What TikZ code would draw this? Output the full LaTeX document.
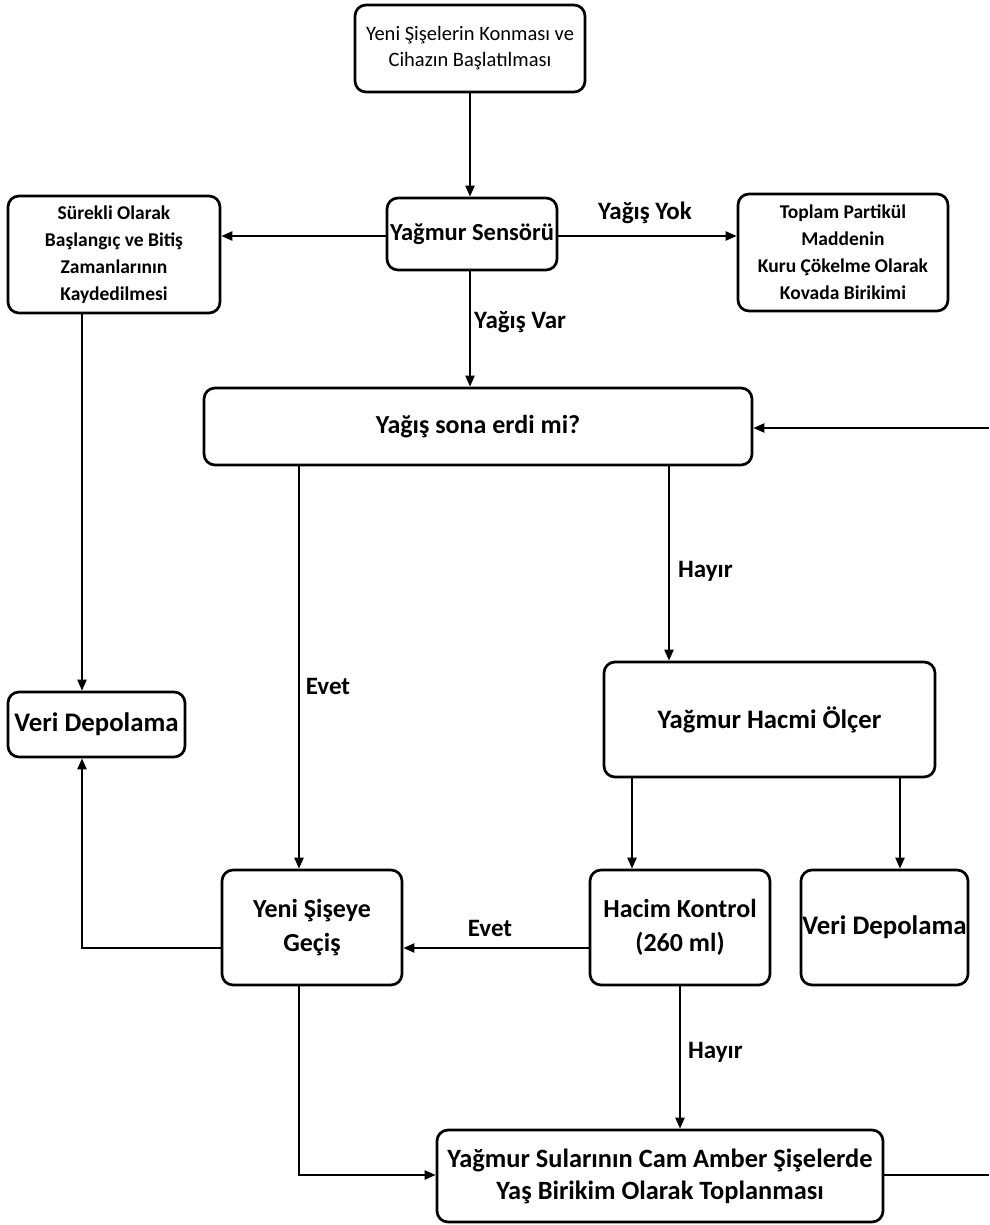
\documentclass[tikz,border=0pt]{standalone}
\usepackage{fontspec}
\setmainfont{Carlito}
\usetikzlibrary{arrows.meta}
\begin{document}
\begin{tikzpicture}[x=1pt,y=-1pt,
  box/.style={draw, line width=2.7pt, rounded corners=11pt, align=center, inner sep=0pt},
  arr/.style={line width=2.3pt, -{Triangle[length=11pt,width=9pt]}},
  ln/.style={line width=2.3pt},
  lbl/.style={font=\fontsize{25}{29}\selectfont\bfseries, inner sep=0pt}]
\useasboundingbox (0,0) rectangle (989,1225);
\node[box, minimum width=230pt, minimum height=87pt, font=\fontsize{20.5}{26}\selectfont] (start) at (470,48.5) {Yeni Şişelerin Konması ve\\Cihazın Başlatılması};
\node[box, minimum width=170pt, minimum height=72pt, font=\fontsize{24.5}{30}\selectfont\bfseries] (sensor) at (472,234) {Yağmur Sensörü};
\node[box, minimum width=212pt, minimum height=117pt, font=\fontsize{19.5}{27}\selectfont\bfseries] (rec) at (114,254.5) {Sürekli Olarak\\Başlangıç ve Bitiş\\Zamanlarının\\Kaydedilmesi};
\node[box, minimum width=210pt, minimum height=117pt, font=\fontsize{19.5}{27}\selectfont\bfseries] (dry) at (843,252.5) {Toplam Partikül\\Maddenin\\Kuru Çökelme Olarak\\Kovada Birikimi};
\node[box, minimum width=548pt, minimum height=77pt, font=\fontsize{26}{30}\selectfont\bfseries] (ended) at (478,426.5) {Yağış sona erdi mi?};
\node[box, minimum width=177pt, minimum height=65pt, font=\fontsize{26.8}{31}\selectfont\bfseries] (veri1) at (96.5,724.5) {Veri Depolama};
\node[box, minimum width=331pt, minimum height=115pt, font=\fontsize{26.7}{31}\selectfont\bfseries] (gauge) at (769.5,719.5) {Yağmur Hacmi Ölçer};
\node[box, minimum width=180pt, minimum height=115pt, font=\fontsize{26}{34}\selectfont\bfseries] (newb) at (312,927.5) {Yeni Şişeye\\Geçiş};
\node[box, minimum width=180pt, minimum height=115pt, font=\fontsize{26}{34}\selectfont\bfseries] (vol) at (680,927.5) {Hacim Kontrol\\(260 ml)};
\node[box, minimum width=167pt, minimum height=115pt, font=\fontsize{26.8}{31}\selectfont\bfseries] (veri2) at (884.5,927.5) {Veri Depolama};
\node[box, minimum width=446pt, minimum height=92pt, font=\fontsize{26.4}{32}\selectfont\bfseries] (wet) at (660,1176) {Yağmur Sularının Cam Amber Şişelerde\\Yaş Birikim Olarak Toplanması};
\coordinate (r1) at (989,428);
\coordinate (r2) at (989,1175);
\coordinate (c1) at (82,948);
\coordinate (c2) at (299,1175);
% connectors
\draw[arr] (start.south) -- (start.south |- sensor.north);
\draw[arr] (sensor.west |- 0,236) -- (rec.east |- 0,236);
\draw[arr] (sensor.east |- 0,236) -- (dry.west |- 0,236);
\draw[arr] (sensor.south -| 470,0) -- (ended.north -| 470,0);
\draw[arr] (r1) -- (ended.east |- r1);
\draw[arr] (rec.south -| 82,0) -- (veri1.north -| 82,0);
\draw[arr] (newb.west |- c1) -- (c1) -- (veri1.south -| c1);
\draw[arr] (ended.south -| 299,0) -- (newb.north -| 299,0);
\draw[arr] (ended.south -| 669,0) -- (gauge.north -| 669,0);
\draw[arr] (gauge.south -| 632,0) -- (vol.north -| 632,0);
\draw[arr] (gauge.south -| 900,0) -- (veri2.north -| 900,0);
\draw[arr] (vol.west |- c1) -- (newb.east |- c1);
\draw[arr] (vol.south) -- (wet.north -| vol.south);
\draw[arr] (newb.south -| c2) -- (c2) -- (wet.west |- c2);
\draw[ln] (wet.east |- r2) -- (r2);
% labels
\node[lbl] (l1) at (645,213) {Yağış Yok};
\node[lbl, anchor=west] (l2) at (474,322) {Yağış Var};
\node[lbl] (l3) at (328,686) {Evet};
\node[lbl, anchor=west] (l4) at (678,571) {Hayır};
\node[lbl] (l5) at (490,928) {Evet};
\node[lbl, anchor=west] (l6) at (688,1052) {Hayır};
\end{tikzpicture}
\end{document}
